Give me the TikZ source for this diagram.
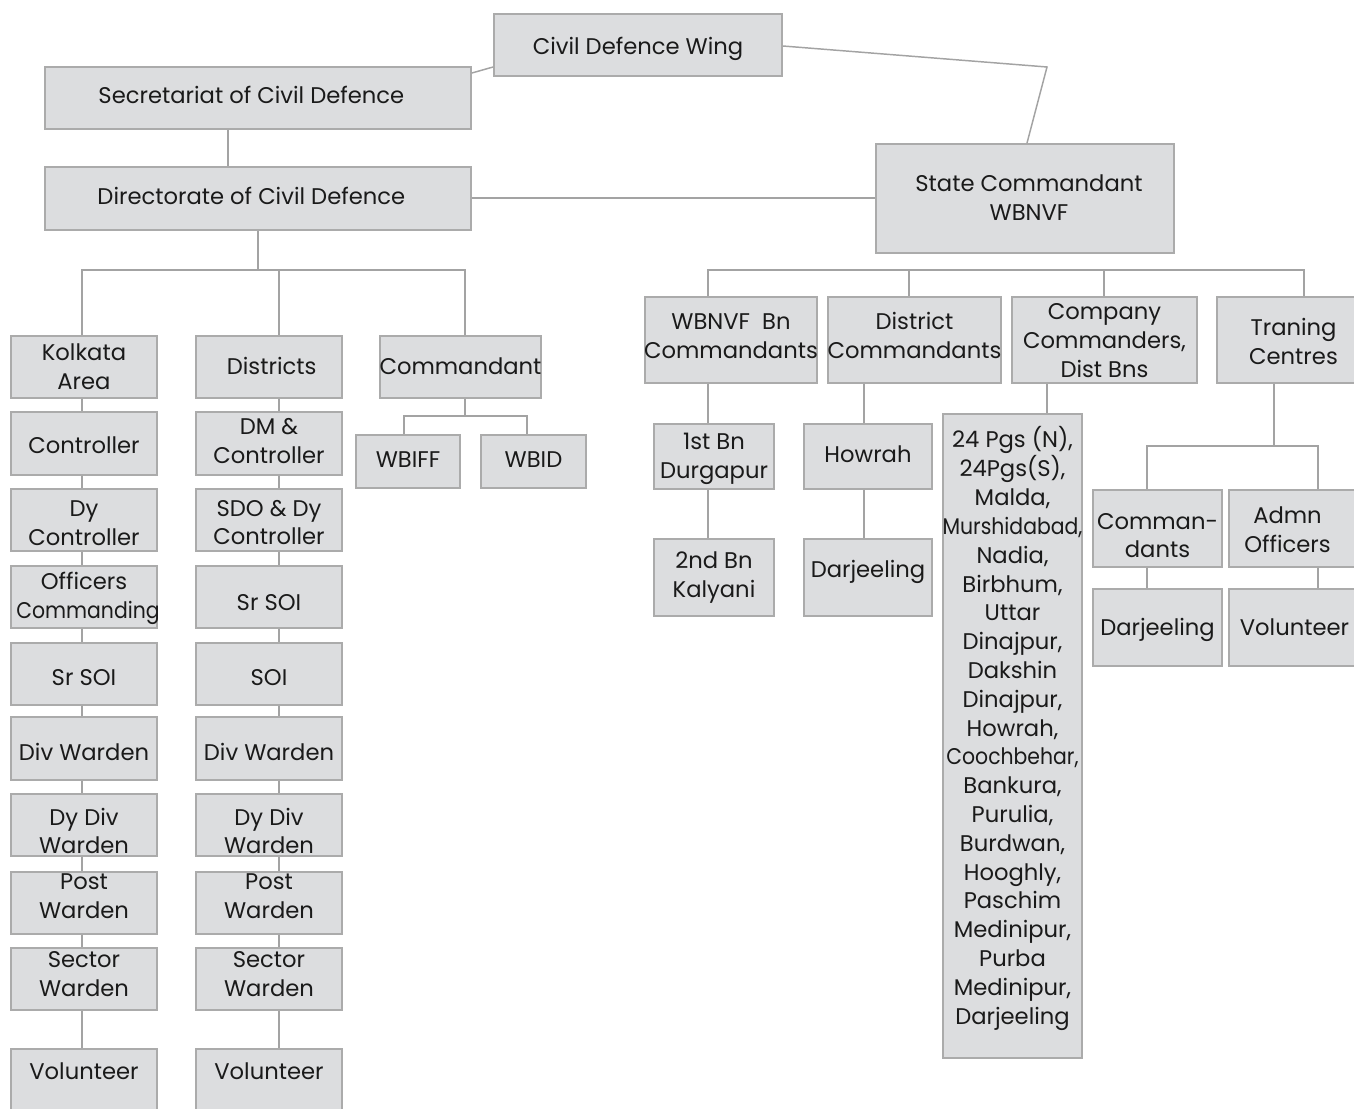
\documentclass[tikz,border=0pt]{standalone}
\usepackage{fontspec}
\usepackage{graphicx}
\setmainfont{Poppins}
\definecolor{boxfill}{HTML}{DCDDDF}
\definecolor{boxline}{HTML}{ABABAB}
\definecolor{conn}{HTML}{A3A3A3}
\definecolor{txt}{HTML}{1A1A1A}
\newcommand\bx[7][0]{%
  \node[box, minimum width={(#5-#3)*0.75pt}, minimum height={(#6-#4)*0.75pt}]
    (#2) at ({(#3+#5)/2},{(#4+#6)/2}) {\raisebox{#1pt}[\height][\depth]{\makebox[0pt]{\begin{tabular}{@{}c@{}}#7\end{tabular}}}};}
\newcommand\sqz[1]{\scalebox{0.9}[1]{#1}}
\begin{document}
\begin{tikzpicture}[x=0.75pt,y=-0.75pt,
  box/.style={draw=boxline, line width=1.4pt, fill=boxfill, inner sep=0pt, text=txt,
    font=\fontsize{17}{21.6}\selectfont},
  link/.style={draw=conn, line width=1.1pt}]
\clip (0,0) rectangle (1354,1109);
\fill[white] (0,0) rectangle (1354,1109);
% top level
\bx[-3]{cdw}{494}{14}{782}{76}{Civil Defence Wing}
\bx[0]{sec}{45}{67}{471}{129}{\hspace{-10pt}Secretariat of Civil Defence}
\bx[0]{dir}{45}{167}{471}{230}{\hspace{-10pt}Directorate of Civil Defence}
\bx[-1.5]{sc}{876}{144}{1174}{253}{\hspace{6pt}State Commandant\\\hspace{6pt}WBNVF}
% left columns
\bx[-1.5]{ka}{11}{336}{157}{398}{Kolkata\\Area}
\bx[-3]{kc}{11}{412}{157}{475}{Controller}
\bx[-4]{kdc}{11}{489}{157}{551}{Dy\\Controller}
\bx[-1]{koc}{11}{566}{157}{628}{Officers\\\hspace{6pt}\sqz{Commanding}}
\bx[-4.5]{ksr}{11}{643}{157}{705}{Sr SOI}
\bx[-4.5]{kdw}{11}{717}{157}{780}{Div Warden}
\bx[-6.5]{kddw}{11}{794}{157}{856}{Dy Div\\Warden}
\bx[3.75]{kpw}{11}{872}{157}{934}{Post\\Warden}
\bx[2]{ksw}{11}{948}{157}{1010}{Sector\\Warden}
\bx[10]{kv}{11}{1049}{157}{1125}{Volunteer}
\bx[-1.5]{di}{196}{336}{342}{398}{\hspace{4pt}Districts}
\bx[0]{dm}{196}{412}{342}{475}{DM \&\\Controller}
\bx[-3.5]{sdo}{196}{489}{342}{551}{SDO \& Dy\\Controller}
\bx[-6]{dsr}{196}{566}{342}{628}{Sr SOI}
\bx[-4.5]{dsoi}{196}{643}{342}{705}{SOI}
\bx[-4.5]{ddw}{196}{717}{342}{780}{Div Warden}
\bx[-6.5]{dddw}{196}{794}{342}{856}{Dy Div\\Warden}
\bx[3.75]{dpw}{196}{872}{342}{934}{Post\\Warden}
\bx[2]{dsw}{196}{948}{342}{1010}{Sector\\Warden}
\bx[10]{dv}{196}{1049}{342}{1125}{Volunteer}
\bx[-1.5]{com}{380}{336}{541}{398}{Commandant}
\bx[0]{wbiff}{356}{435}{460}{488}{WBIFF}
\bx[0]{wbid}{481}{435}{586}{488}{WBID}
% right side
\bx[1.5]{bn}{645}{297}{817}{383}{WBNVF\ \ Bn\\Commandants}
\bx[1.5]{dc}{828}{297}{1001}{383}{District\\Commandants}
\bx[-2]{cc}{1012}{297}{1197}{383}{Company\\Commanders,\\Dist Bns}
\bx[-3]{tc}{1217}{297}{1370}{383}{Traning\\Centres}
\bx[-1.5]{b1}{654}{424}{774}{489}{1st Bn\\Durgapur}
\bx[0]{b2}{654}{539}{774}{616}{2nd Bn\\Kalyani}
\bx[0]{how}{804}{424}{932}{489}{Howrah}
\bx[4]{dar}{804}{539}{932}{616}{Darjeeling}
\bx[5]{lst}{943}{414}{1082}{1058}{24 Pgs (N),\\24Pgs(S),\\Malda,\\\sqz{Murshidabad,}\\Nadia,\\Birbhum,\\Uttar\\Dinajpur,\\Dakshin\\Dinajpur,\\Howrah,\\\sqz{Coochbehar,}\\Bankura,\\Purulia,\\Burdwan,\\Hooghly,\\Paschim\\Medinipur,\\Purba\\Medinipur,\\Darjeeling}
\bx[-7]{tcom}{1093}{490}{1222}{567}{Comman-\\dants}
\bx[-3]{adm}{1229}{490}{1370}{567}{\hspace{-18pt}Admn\\\hspace{-18pt}Officers}
\bx[-2]{tdar}{1093}{589}{1222}{666}{Darjeeling}
\bx[-2]{tvol}{1229}{589}{1370}{666}{\hspace{-7.5pt}Volunteer}
% connectors
\draw[link] (sec.east |- 0,73) -- (cdw.west |- 0,67);
\draw[link] (cdw.east |- 0,46) -- (1047,67) -- (sc.north -| 1027,0);
\draw[link] (sec.south -| 228,0) -- (dir.north -| 228,0);
\draw[link] (dir.east |- 0,198) -- (sc.west |- 0,198);
\draw[link] (dir.south -| 258,0) -- (258,270);
\draw[link] (ka.north -| 82,0) -- (82,270) -- (465,270) -- (com.north -| 465,0);
\draw[link] (279,270) -- (di.north -| 279,0);
\foreach \a/\b in {ka/kc,kc/kdc,kdc/koc,koc/ksr,ksr/kdw,kdw/kddw,kddw/kpw,kpw/ksw,ksw/kv}
  \draw[link] (\a.south -| 82,0) -- (\b.north -| 82,0);
\foreach \a/\b in {di/dm,dm/sdo,sdo/dsr,dsr/dsoi,dsoi/ddw,ddw/dddw,dddw/dpw,dpw/dsw,dsw/dv}
  \draw[link] (\a.south -| 279,0) -- (\b.north -| 279,0);
\draw[link] (com.south -| 465,0) -- (465,416);
\draw[link] (wbiff.north -| 404,0) -- (404,416) -- (527,416) -- (wbid.north -| 527,0);
% right connectors
\draw[link] (bn.north -| 708,0) -- (708,270) -- (1304,270) -- (tc.north -| 1304,0);
\draw[link] (909,270) -- (dc.north -| 909,0);
\draw[link] (1104,270) -- (cc.north -| 1104,0);
\draw[link] (bn.south -| 708,0) -- (b1.north -| 708,0);
\draw[link] (b1.south -| 708,0) -- (b2.north -| 708,0);
\draw[link] (dc.south -| 864,0) -- (how.north -| 864,0);
\draw[link] (how.south -| 864,0) -- (dar.north -| 864,0);
\draw[link] (cc.south -| 1047,0) -- (lst.north -| 1047,0);
\draw[link] (tc.south -| 1274,0) -- (1274,446);
\draw[link] (tcom.north -| 1147,0) -- (1147,446) -- (1318,446) -- (adm.north -| 1318,0);
\draw[link] (tcom.south -| 1147,0) -- (tdar.north -| 1147,0);
\draw[link] (adm.south -| 1318,0) -- (tvol.north -| 1318,0);
\end{tikzpicture}
\end{document}
